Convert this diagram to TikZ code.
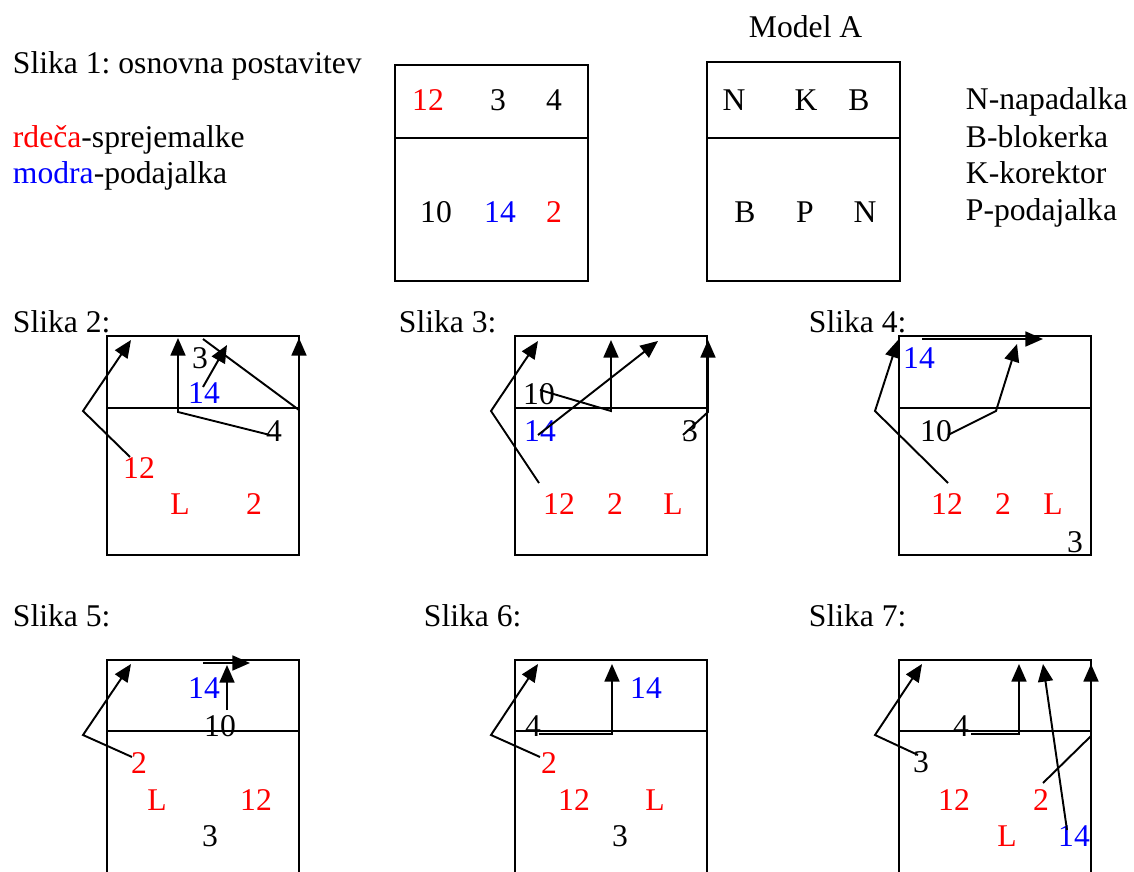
\documentclass[tikz,border=0pt]{standalone}
\usepackage{fontspec}
\setmainfont{Liberation Serif}
\usetikzlibrary{arrows.meta}
\frenchspacing

\begin{document}
\begin{tikzpicture}[
      x=0.02cm, y=-0.02cm, % pixel coordinates
      line width=1.1pt, % default line width
      >={Triangle[length=10pt,width=8.5pt]}, % default arrow tip
      igr/.style={font=\fontsize{18}{22}\selectfont, inner sep=0pt}, % player
      rde/.style={igr, red}, % receiver
      mod/.style={igr, blue}, % setter
      napis/.style={igr, anchor=base west}, % captions
      pot/.style={->, line join=miter}, % player route
    ]
    \useasboundingbox (0,0) rectangle (1134,872);

    % Napisi
    \node[napis] (n1) at (12,73) {Slika 1: osnovna postavitev};
    \node[napis] (leg1) at (12,147) {\textcolor{red}{rdeča}-sprejemalke};
    \node[napis] (leg2) at (12,183) {\textcolor{blue}{modra}-podajalka};
    \node[napis] (nA) at (748,37) {Model A};
    \node[napis] (legN) at (965,110) {N-napadalka};
    \node[napis] (legB) at (965,147) {B-blokerka};
    \node[napis] (legK) at (965,183) {K-korektor};
    \node[napis] (legP) at (965,220) {P-podajalka};
    \node[napis] (n2) at (12,332) {Slika 2:};
    \node[napis] (n3) at (398,332) {Slika 3:};
    \node[napis] (n4) at (808,332) {Slika 4:};
    \node[napis] (n5) at (12,626) {Slika 5:};
    \node[napis] (n6) at (423,626) {Slika 6:};
    \node[napis] (n7) at (808,626) {Slika 7:};

    % Igrisca
    \draw (395,65) rectangle (588,281);
    \draw (395,138) -- (588,138);
    \draw (707,62) rectangle (900,281);
    \draw (707,138) -- (900,138);
    \foreach \x in {107,515,899} {
      \draw (\x,336) rectangle ++(192,219);
      \draw (\x,408) -- ++(192,0);
      \draw (\x,872) |- ++(192,-212) -- ++(0,212);
      \draw (\x,731) -- ++(192,0);
    }

    % Slika 1
    \node[rde] (a-12) at (428,100) {12};
    \node[igr] (a-3) at (498,100) {3};
    \node[igr] (a-4) at (554,100) {4};
    \node[igr] (a-10) at (436,212) {10};
    \node[mod] (a-14) at (500,212) {14};
    \node[rde] (a-2) at (554,212) {2};
    \node[igr] (m-N1) at (734,100) {N};
    \node[igr] (m-K) at (806,100) {K};
    \node[igr] (m-B1) at (859,100) {B};
    \node[igr] (m-B2) at (745,212) {B};
    \node[igr] (m-P) at (805,212) {P};
    \node[igr] (m-N2) at (865,212) {N};

    % Slika 2
    \node[igr] (b2-3) at (200,358) {3};
    \node[mod] (b2-14) at (204,393) {14};
    \node[igr] (b2-4) at (274,431) {4};
    \node[rde] (b2-12) at (139,468) {12};
    \node[rde] (b2-L) at (180,504) {L};
    \node[rde] (b2-2) at (254,504) {2};
    \coordinate (b2-p1) at (130,457); \coordinate (b2-k1) at (83,411); \coordinate (b2-t1) at (131,340);
    \coordinate (b2-p2) at (270,435); \coordinate (b2-k2) at (178,412); \coordinate (b2-t2) at (178,338);
    \coordinate (b2-p3) at (203,387); \coordinate (b2-t3) at (227,345);
    \coordinate (b2-p4) at (203,339); \coordinate (b2-k4) at (299,410); \coordinate (b2-t4) at (299,338);
    \draw[pot] (b2-p1) -- (b2-k1) -- (b2-t1);
    \draw[pot] (b2-p2) -- (b2-k2) -- (b2-t2);
    \draw[pot] (b2-p3) -- (b2-t3);
    \draw[pot] (b2-p4) -- (b2-k4) -- (b2-t4);

    % Slika 3
    \node[igr] (b3-10) at (539,394) {10};
    \node[mod] (b3-14) at (540,431) {14};
    \node[igr] (b3-3) at (690,431) {3};
    \node[rde] (b3-12) at (559,504) {12};
    \node[rde] (b3-2) at (615,504) {2};
    \node[rde] (b3-L) at (673,504) {L};
    \coordinate (b3-p1) at (539,483); \coordinate (b3-k1) at (491,411); \coordinate (b3-t1) at (538,341);
    \coordinate (b3-p2) at (540,390); \coordinate (b3-k2) at (611,411); \coordinate (b3-t2) at (611,340);
    \coordinate (b3-p3) at (538,435); \coordinate (b3-t3) at (658,341);
    \coordinate (b3-p4) at (683,435); \coordinate (b3-k4) at (708,412); \coordinate (b3-t4) at (708,340);
    \draw[pot] (b3-p1) -- (b3-k1) -- (b3-t1);
    \draw[pot] (b3-p2) -- (b3-k2) -- (b3-t2);
    \draw[pot] (b3-p3) -- (b3-t3);
    \draw[pot] (b3-p4) -- (b3-k4) -- (b3-t4);

    % Slika 4
    \node[mod] (b4-14) at (919,358) {14};
    \node[igr] (b4-10) at (936,431) {10};
    \node[rde] (b4-12) at (947,504) {12};
    \node[rde] (b4-2) at (1003,504) {2};
    \node[rde] (b4-L) at (1053,504) {L};
    \node[igr] (b4-3) at (1075,542) {3};
    \coordinate (b4-p1) at (948,483); \coordinate (b4-k1) at (875,411); \coordinate (b4-t1) at (898,340);
    \coordinate (b4-p2) at (948,435); \coordinate (b4-k2) at (996,411); \coordinate (b4-t2) at (1017,344);
    \coordinate (b4-p3) at (922,339); \coordinate (b4-t3) at (1043,339);
    \draw[pot] (b4-p1) -- (b4-k1) -- (b4-t1);
    \draw[pot] (b4-p2) -- (b4-k2) -- (b4-t2);
    \draw[pot] (b4-p3) -- (b4-t3);

    % Slika 5
    \node[mod] (b5-14) at (204,688) {14};
    \node[igr] (b5-10) at (220,726) {10};
    \node[rde] (b5-2) at (139,763) {2};
    \node[rde] (b5-L) at (157,800) {L};
    \node[rde] (b5-12) at (256,800) {12};
    \node[igr] (b5-3) at (210,836) {3};
    \coordinate (b5-p1) at (132,757); \coordinate (b5-k1) at (83,735); \coordinate (b5-t1) at (131,664);
    \coordinate (b5-p2) at (227,710); \coordinate (b5-t2) at (227,665);
    \coordinate (b5-p3) at (203,663); \coordinate (b5-t3) at (250,663);
    \draw[pot] (b5-p1) -- (b5-k1) -- (b5-t1);
    \draw[pot] (b5-p2) -- (b5-t2);
    \draw[pot] (b5-p3) -- (b5-t3);

    % Slika 6
    \node[mod] (b6-14) at (646,688) {14};
    \node[igr] (b6-4) at (533,726) {4};
    \node[rde] (b6-2) at (549,763) {2};
    \node[rde] (b6-12) at (574,800) {12};
    \node[rde] (b6-L) at (655,800) {L};
    \node[igr] (b6-3) at (620,836) {3};
    \coordinate (b6-p1) at (540,757); \coordinate (b6-k1) at (491,735); \coordinate (b6-t1) at (538,664);
    \coordinate (b6-p2) at (539,734); \coordinate (b6-k2) at (612,734); \coordinate (b6-t2) at (612,664);
    \draw[pot] (b6-p1) -- (b6-k1) -- (b6-t1);
    \draw[pot] (b6-p2) -- (b6-k2) -- (b6-t2);

    % Slika 7
    \node[igr] (b7-4) at (961,726) {4};
    \node[igr] (b7-3) at (921,762) {3};
    \node[rde] (b7-12) at (954,800) {12};
    \node[rde] (b7-2) at (1041,800) {2};
    \node[rde] (b7-L) at (1007,836) {L};
    \node[mod] (b7-14) at (1074,836) {14};
    \coordinate (b7-p1) at (918,755); \coordinate (b7-k1) at (875,735); \coordinate (b7-t1) at (922,664);
    \coordinate (b7-p2) at (971,734); \coordinate (b7-k2) at (1019,734); \coordinate (b7-t2) at (1019,664);
    \coordinate (b7-p3) at (1067,830); \coordinate (b7-t3) at (1043,664);
    \coordinate (b7-p4) at (1043,783); \coordinate (b7-k4) at (1091,736); \coordinate (b7-t4) at (1091,664);
    \draw[pot] (b7-p1) -- (b7-k1) -- (b7-t1);
    \draw[pot] (b7-p2) -- (b7-k2) -- (b7-t2);
    \draw[pot] (b7-p3) -- (b7-t3);
    \draw[pot] (b7-p4) -- (b7-k4) -- (b7-t4);
  \end{tikzpicture}
\end{document}
